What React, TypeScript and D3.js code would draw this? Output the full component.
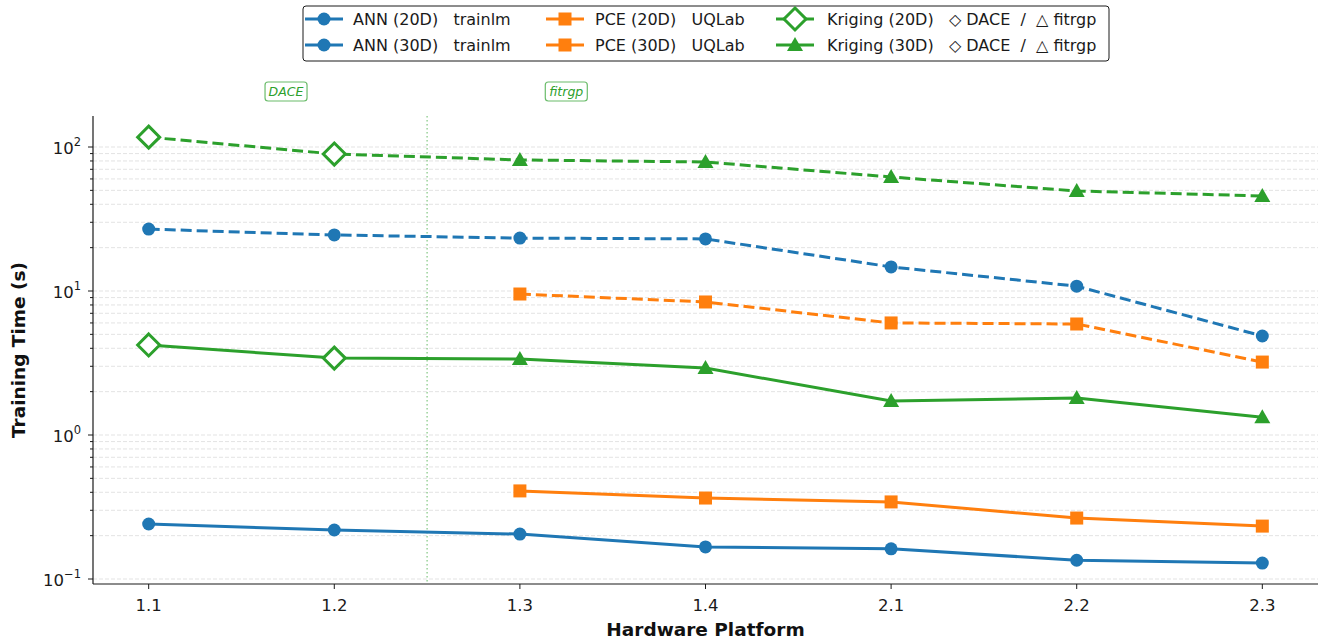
import React from "react";
import * as d3 from "d3";

// Hardware platforms on the x axis
const platforms = ["1.1", "1.2", "1.3", "1.4", "2.1", "2.2", "2.3"];

// Training times in seconds (null where a method was not run)
const ann20 = [0.241, 0.219, 0.205, 0.167, 0.162, 0.135, 0.129];
const ann30 = [26.9, 24.5, 23.3, 23.0, 14.7, 10.8, 4.87];
const pce20: (number | null)[] = [null, null, 0.409, 0.365, 0.343, 0.265, 0.233];
const pce30: (number | null)[] = [null, null, 9.53, 8.39, 6.0, 5.9, 3.21];
const krig20 = [4.22, 3.42, 3.37, 2.92, 1.72, 1.81, 1.33];
const krig30 = [117, 89.4, 81.3, 78.7, 61.9, 49.5, 45.7];

// Kriging toolbox used on each platform
const krigToolbox = ["DACE", "DACE", "fitrgp", "fitrgp", "fitrgp", "fitrgp", "fitrgp"];

const yTickExps = [-1, 0, 1, 2];

const BLUE = "#1f77b4";
const ORANGE = "#ff7f0e";
const GREEN = "#2ca02c";
const FONT = "'DejaVu Sans', sans-serif";
const INK = "#1a1a1a";

const W = 1320;
const H = 643;
const left = 93;
const right = 1318;
const top = 116;
const bottom = 584;

type Series = {
  name: string;
  values: (number | null)[];
  color: string;
  dashed: boolean;
  marker: "circle" | "square" | "kriging";
};

const seriesList: Series[] = [
  { name: "ANN (20D)", values: ann20, color: BLUE, dashed: false, marker: "circle" },
  { name: "ANN (30D)", values: ann30, color: BLUE, dashed: true, marker: "circle" },
  { name: "PCE (20D)", values: pce20, color: ORANGE, dashed: false, marker: "square" },
  { name: "PCE (30D)", values: pce30, color: ORANGE, dashed: true, marker: "square" },
  { name: "Kriging (20D)", values: krig20, color: GREEN, dashed: false, marker: "kriging" },
  { name: "Kriging (30D)", values: krig30, color: GREEN, dashed: true, marker: "kriging" },
];

const legendText = [
  "ANN (20D)   trainlm",
  "ANN (30D)   trainlm",
  "PCE (20D)   UQLab",
  "PCE (30D)   UQLab",
  "Kriging (20D)   \u25C7 DACE  /  \u25B3 fitrgp",
  "Kriging (30D)   \u25C7 DACE  /  \u25B3 fitrgp",
];

const x = d3.scaleLinear().domain([-0.3, platforms.length - 1 + 0.3]).range([left, right]);
const y = d3
  .scaleLog()
  .domain([Math.pow(10, -1 - 5 / 144), Math.pow(10, 2 + 31 / 144)])
  .range([bottom, top]);

function Marker({ kind, cx, cy, color }: { kind: string; cx: number; cy: number; color: string }) {
  if (kind === "circle") return <circle cx={cx} cy={cy} r={6.5} fill={color} />;
  if (kind === "square")
    return <rect x={cx - 6.5} y={cy - 6.5} width={13} height={13} fill={color} />;
  if (kind === "diamond") {
    const s = 11;
    return (
      <path
        d={`M${cx},${cy - s}L${cx + s},${cy}L${cx},${cy + s}L${cx - s},${cy}Z`}
        fill="white"
        stroke={color}
        strokeWidth={3}
      />
    );
  }
  // filled triangle
  const s = 8;
  return (
    <path
      d={`M${cx},${cy - s}L${cx + s},${cy + s * 0.75}L${cx - s},${cy + s * 0.75}Z`}
      fill={color}
    />
  );
}

function markerKind(s: Series, i: number) {
  if (s.marker !== "kriging") return s.marker;
  return krigToolbox[i] === "DACE" ? "diamond" : "triangle";
}

export default function App() {
  const line = d3
    .line<number | null>()
    .defined((d) => d !== null)
    .x((_, i) => x(i))
    .y((d) => y(d as number));

  const minorTicks: number[] = [];
  for (let e = -2; e <= 2; e++) {
    for (let m = 2; m <= 9; m++) {
      const v = m * Math.pow(10, e);
      if (y(v) <= bottom && y(v) >= top) minorTicks.push(v);
    }
  }
  const majorTicks = yTickExps.map((e) => Math.pow(10, e));

  const legendCols = [
    { hx: 324, tx: 353 },
    { hx: 565, tx: 595 },
    { hx: 795, tx: 827 },
  ];
  const legendRows = [19, 45];

  return (
    <svg
      width={W}
      height={H}
      style={{ position: "absolute", left: 0, top: 0, background: "white" }}
      fontFamily={FONT}
    >
      <rect width={W} height={H} fill="white" />
      {/* horizontal grid */}
      {[...minorTicks, ...majorTicks].map((v, i) => (
        <line
          key={"g" + i}
          x1={left}
          x2={right}
          y1={y(v)}
          y2={y(v)}
          stroke="#dcdcdc"
          strokeWidth={0.8}
          strokeDasharray="4,2"
        />
      ))}

      {/* toolbox boundary */}
      <line
        x1={x(1.5)}
        x2={x(1.5)}
        y1={top}
        y2={bottom}
        stroke={GREEN}
        strokeOpacity={0.6}
        strokeWidth={1.2}
        strokeDasharray="1.5,2.5"
      />
      {[
        { label: "DACE", pos: 0.74 },
        { label: "fitrgp", pos: 2.25 },
      ].map((t) => (
        <g key={t.label}>
          <rect
            x={x(t.pos) - 21}
            y={82}
            width={42}
            height={19}
            rx={3}
            fill="white"
            stroke={GREEN}
            strokeOpacity={0.7}
            strokeWidth={1.2}
          />
          <text
            x={x(t.pos)}
            y={96}
            textAnchor="middle"
            fontSize={12.5}
            fontStyle="italic"
            fill={GREEN}
          >
            {t.label}
          </text>
        </g>
      ))}

      {/* series */}
      {seriesList.map((s) => (
        <g key={s.name}>
          <path
            d={line(s.values) || ""}
            fill="none"
            stroke={s.color}
            strokeWidth={3}
            strokeDasharray={s.dashed ? "11,5" : undefined}
          />
          {s.values.map((v, i) =>
            v === null ? null : (
              <Marker key={i} kind={markerKind(s, i)} cx={x(i)} cy={y(v)} color={s.color} />
            )
          )}
        </g>
      ))}

      {/* axes */}
      <line x1={left} x2={left} y1={top} y2={bottom} stroke={INK} strokeWidth={1.2} />
      <line x1={left} x2={right} y1={bottom} y2={bottom} stroke={INK} strokeWidth={1.2} />
      {platforms.map((p, i) => (
        <g key={p}>
          <line x1={x(i)} x2={x(i)} y1={bottom} y2={bottom + 5} stroke={INK} />
          <text x={x(i)} y={bottom + 27} textAnchor="middle" fontSize={16.5} fill={INK}>
            {p}
          </text>
        </g>
      ))}
      {minorTicks.map((v, i) => (
        <line key={"m" + i} x1={left - 3} x2={left} y1={y(v)} y2={y(v)} stroke={INK} />
      ))}
      {yTickExps.map((e) => (
        <g key={"y" + e}>
          <line x1={left - 5} x2={left} y1={y(Math.pow(10, e))} y2={y(Math.pow(10, e))} stroke={INK} />
          <text
            x={left - 12}
            y={y(Math.pow(10, e)) + 7}
            textAnchor="end"
            fontSize={16.5}
            fill={INK}
          >
            10
            <tspan dy={-8} fontSize={11.5}>
              {e < 0 ? "\u2212" + Math.abs(e) : String(e)}
            </tspan>
          </text>
        </g>
      ))}
      <text
        x={(left + right) / 2}
        y={636}
        textAnchor="middle"
        fontSize={18.5}
        fontWeight="bold"
        fill="#111"
      >
        Hardware Platform
      </text>
      <text
        transform={`translate(25, ${(top + bottom) / 2}) rotate(-90)`}
        textAnchor="middle"
        fontSize={18.5}
        fontWeight="bold"
        fill="#111"
      >
        Training Time (s)
      </text>

      {/* legend */}
      <rect
        x={303}
        y={6}
        width={806}
        height={55}
        rx={3}
        fill="white"
        stroke={INK}
        strokeWidth={1}
      />
      {seriesList.map((s, k) => {
        const col = legendCols[Math.floor(k / 2)];
        const ry = legendRows[k % 2];
        const kind = s.marker === "kriging" ? (k % 2 === 0 ? "diamond" : "triangle") : s.marker;
        return (
          <g key={"lg" + k}>
            <line
              x1={col.hx - 19}
              x2={col.hx + 19}
              y1={ry}
              y2={ry}
              stroke={s.color}
              strokeWidth={3}
            />
            <Marker kind={kind} cx={col.hx} cy={ry} color={s.color} />
            <text
              x={col.tx}
              y={ry + 6}
              fontSize={16}
              fill={INK}
              style={{ whiteSpace: "pre" }}
            >
              {legendText[k]}
            </text>
          </g>
        );
      })}
    </svg>
  );
}
